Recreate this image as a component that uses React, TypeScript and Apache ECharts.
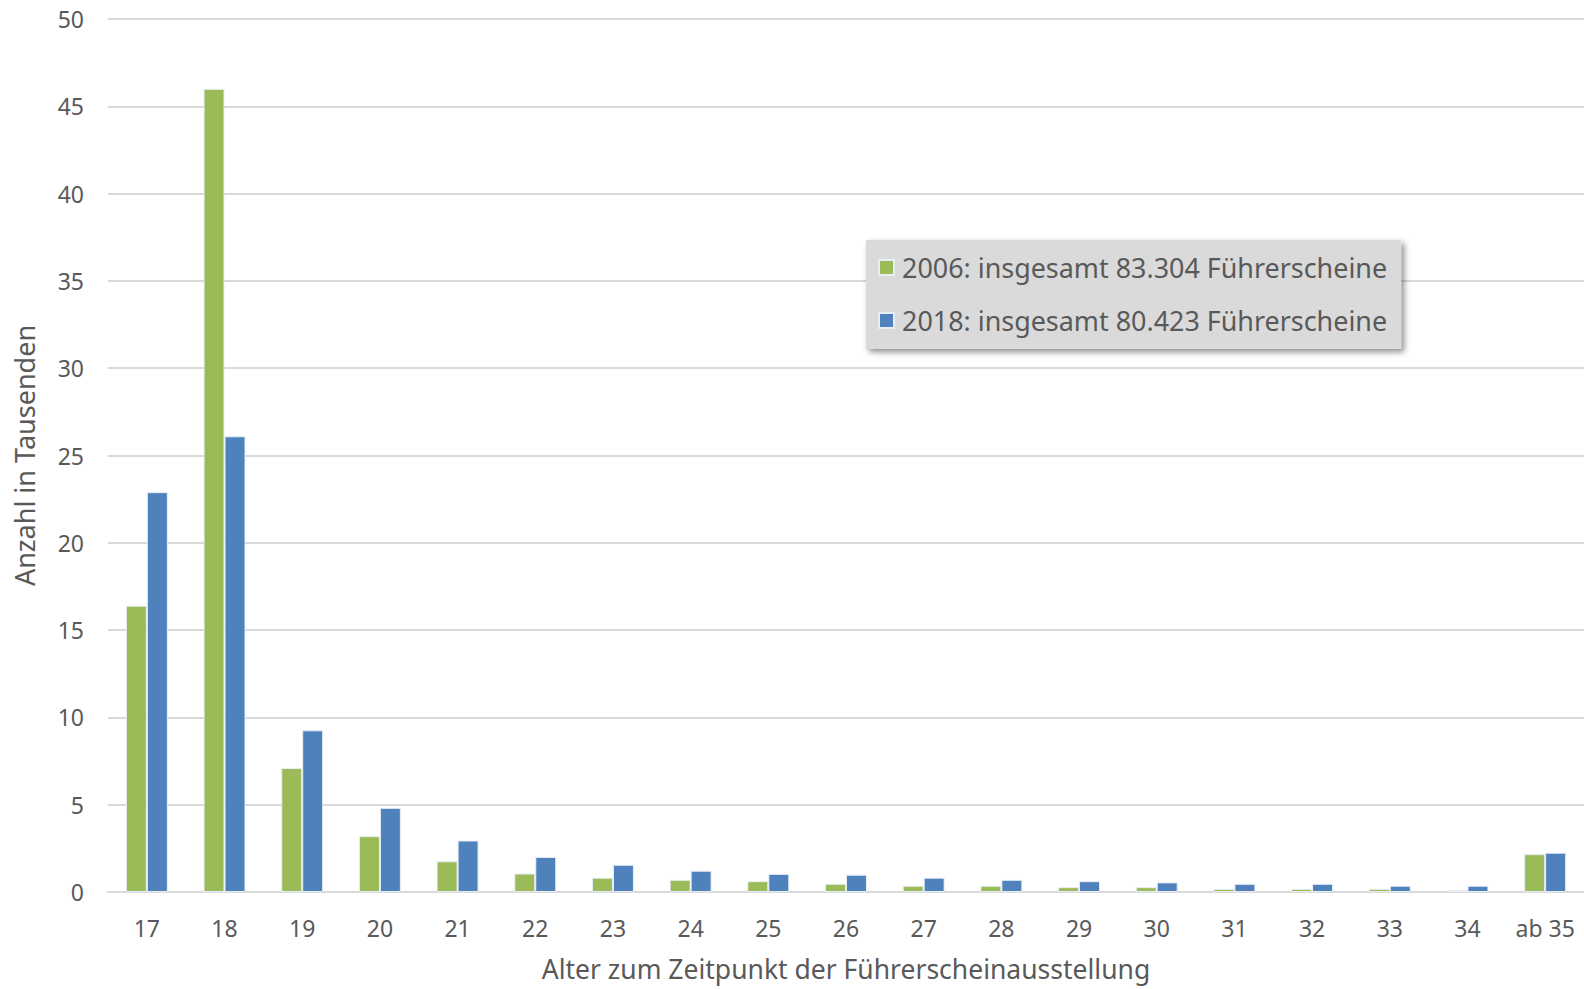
import React, { useEffect, useRef } from "react";
import * as echarts from "echarts";

const categories = ["17", "18", "19", "20", "21", "22", "23", "24", "25", "26", "27", "28", "29", "30", "31", "32", "33", "34", "ab 35"];
const values2006 = [16.4, 46.0, 7.1, 3.2, 1.76, 1.06, 0.82, 0.7, 0.62, 0.47, 0.36, 0.36, 0.28, 0.28, 0.18, 0.18, 0.18, 0.1, 2.17];
const values2018 = [22.9, 26.1, 9.26, 4.82, 2.95, 2.01, 1.56, 1.22, 1.04, 0.99, 0.82, 0.7, 0.62, 0.55, 0.47, 0.47, 0.36, 0.36, 2.25];
const seriesNames = ["2006: insgesamt 83.304 Führerscheine", "2018: insgesamt 80.423 Führerscheine"];
const yTicks = { min: 0, max: 50, interval: 5 };

const FONT = "Noto Sans";
const TEXT = "#595959";

export default function App() {
  const ref = useRef<HTMLDivElement>(null);
  useEffect(() => {
    if (!ref.current) return;
    const chart = echarts.init(ref.current, null, { renderer: "svg" });
    chart.setOption({
      animation: false,
      backgroundColor: "#ffffff",
      textStyle: { fontFamily: FONT },
      grid: { left: 108, right: 0, top: 19, bottom: 97, outerBoundsMode: "none", containLabel: false },
      legend: {
        orient: "vertical",
        left: 866,
        top: 240,
        padding: [14, 14, 15, 12],
        itemGap: 26,
        itemWidth: 15,
        itemHeight: 15,
        icon: "rect",
        backgroundColor: "#DADADA",
        shadowBlur: 6,
        shadowColor: "rgba(0,0,0,0.45)",
        shadowOffsetX: 3,
        shadowOffsetY: 3,
        textStyle: { fontFamily: FONT, fontSize: 26.9, color: TEXT, padding: [0, 0, 0, 3] },
        data: seriesNames,
      },
      xAxis: {
        type: "category",
        data: categories,
        axisLine: { lineStyle: { color: "#D9D9D9", width: 2 } },
        axisTick: { show: false },
        axisLabel: { color: TEXT, fontSize: 23, margin: 24, fontFamily: FONT },
        name: "Alter zum Zeitpunkt der Führerscheinausstellung",
        nameLocation: "middle",
        nameGap: 64,
        nameTextStyle: { color: TEXT, fontSize: 26.5, fontFamily: FONT, lineHeight: 26 },
      },
      yAxis: {
        type: "value",
        min: yTicks.min,
        max: yTicks.max,
        interval: yTicks.interval,
        axisLine: { show: false },
        axisTick: { show: false },
        splitLine: { lineStyle: { color: "#D9D9D9", width: 2 } },
        axisLabel: { color: TEXT, fontSize: 23, margin: 24, fontFamily: FONT },
        name: "Anzahl in Tausenden",
        nameLocation: "middle",
        nameGap: 70,
        nameTextStyle: { color: TEXT, fontSize: 27, fontFamily: FONT },
      },
      series: [
        {
          name: seriesNames[0],
          type: "bar",
          data: values2006,
          barGap: "0%",
          barCategoryGap: "46%",
          itemStyle: { color: "#9BBB59", borderColor: "#E8EEF6", borderWidth: 1 },
        },
        {
          name: seriesNames[1],
          type: "bar",
          data: values2018,
          barGap: "0%",
          barCategoryGap: "46%",
          itemStyle: { color: "#4F81BD", borderColor: "#E8EEF6", borderWidth: 1 },
        },
      ],
    });
    return () => chart.dispose();
  }, []);
  return <div ref={ref} style={{ width: 1584, height: 989, position: "absolute", left: 0, top: 0 }} />;
}
